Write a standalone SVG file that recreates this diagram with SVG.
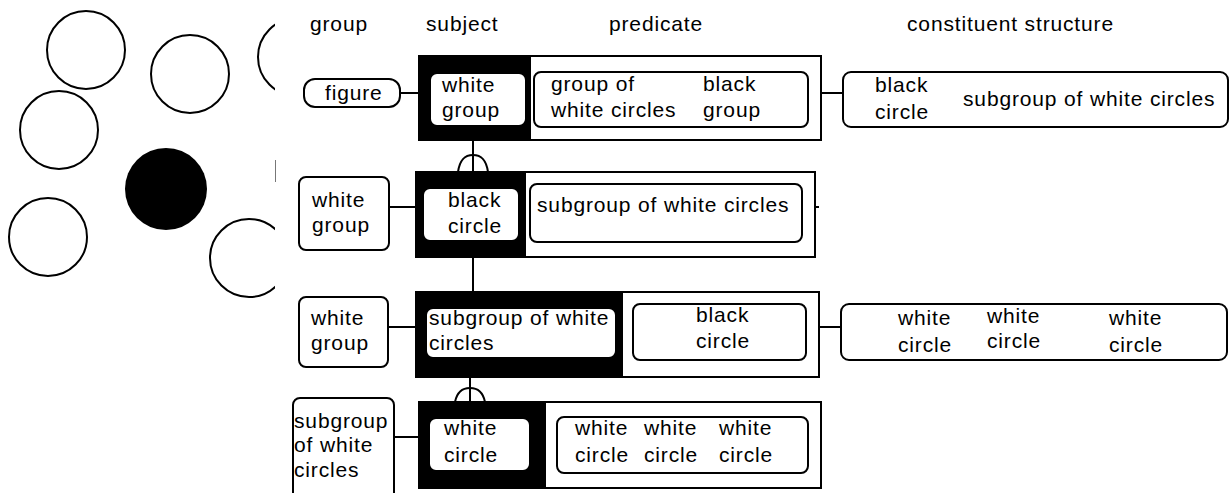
<svg xmlns="http://www.w3.org/2000/svg" width="1231" height="493" viewBox="0 0 1231 493">
  <defs>
    <clipPath id="fieldClip">
      <rect x="0" y="0" width="275" height="493"/>
    </clipPath>
  </defs>
  <style>
    text{font-family:"Liberation Sans",Arial,sans-serif;font-size:21px;letter-spacing:0.85px;fill:#000}
    .frame{fill:#fff;stroke:#000;stroke-width:2}
    .subj{fill:#000}
    .pill{fill:#fff;stroke:#000;stroke-width:2}
    .ring{fill:#fff;stroke:#000;stroke-width:2}
    .dot{fill:#000}
    .wire{fill:none;stroke:#000;stroke-width:2}
  </style>
  <rect width="1231" height="493" fill="#fff"/>

  <!-- field of circles -->
  <g id="field" clip-path="url(#fieldClip)">
    <circle class="ring" cx="86" cy="50" r="39"/>
    <circle class="ring" cx="190" cy="74" r="39"/>
    <circle class="ring" cx="297" cy="57" r="39"/>
    <circle class="ring" cx="59" cy="130" r="39"/>
    <circle class="dot" cx="166" cy="189" r="41"/>
    <circle class="ring" cx="48" cy="237" r="39"/>
    <circle class="ring" cx="249" cy="258" r="39"/>
  </g>
  <line x1="275.5" y1="160" x2="275.5" y2="182" stroke="#777" stroke-width="1"/>

  <!-- column headings -->
  <g id="headings">
    <text x="310" y="31">group</text>
    <text x="426" y="31">subject</text>
    <text x="609" y="31">predicate</text>
    <text x="907" y="31">constituent structure</text>
  </g>

  <!-- connectors -->
  <g id="connectors" class="wire">
    <path d="M400,93 H419"/>
    <path d="M821,93 H843"/>
    <path d="M473,140 V172"/>
    <path d="M458,172 C460,158 466,155 473,155 C480,155 486,158 488,172"/>
    <path d="M389,207 H416"/>
    <path d="M815,207 H819"/>
    <path d="M473,257 V292"/>
    <path d="M388,327 H416"/>
    <path d="M819,327 H841"/>
    <path d="M470,377 V402"/>
    <path d="M455,402 C457,392 463,388 470,388 C477,388 483,392 485,402"/>
    <path d="M394,437 H419"/>
  </g>

  <!-- row 1 -->
  <g id="row1-group">
    <rect class="pill" x="304" y="79" width="96" height="28" rx="11"/>
    <text x="325" y="100">figure</text>
  </g>
  <g id="row1-sentence">
    <rect class="frame" x="419" y="56" width="402" height="84"/>
    <rect class="subj" x="419" y="56" width="112" height="84"/>
    <rect class="pill" x="430" y="73" width="96" height="53" rx="7"/>
    <text x="442" y="92">white</text>
    <text x="442" y="117">group</text>
    <rect class="pill" x="534" y="72" width="274" height="55" rx="7"/>
    <text x="551" y="91">group of</text>
    <text x="551" y="117">white circles</text>
    <text x="703" y="91">black</text>
    <text x="703" y="117">group</text>
  </g>
  <g id="row1-structure">
    <rect class="pill" x="843" y="72" width="385" height="55" rx="8"/>
    <text x="875" y="92">black</text>
    <text x="875" y="119">circle</text>
    <text x="963" y="106">subgroup of white circles</text>
  </g>

  <!-- row 2 -->
  <g id="row2-group">
    <rect class="pill" x="299" y="177" width="90" height="73" rx="7"/>
    <text x="312" y="207">white</text>
    <text x="312" y="232">group</text>
  </g>
  <g id="row2-sentence">
    <rect class="frame" x="416" y="172" width="399" height="85"/>
    <rect class="subj" x="416" y="172" width="110" height="85"/>
    <rect class="pill" x="423" y="188" width="96" height="53" rx="7"/>
    <text x="448" y="207">black</text>
    <text x="448" y="233">circle</text>
    <rect class="pill" x="530" y="184" width="272" height="58" rx="7"/>
    <text x="537" y="212">subgroup of white circles</text>
  </g>

  <!-- row 3 -->
  <g id="row3-group">
    <rect class="pill" x="299" y="297" width="89" height="70" rx="7"/>
    <text x="311" y="325">white</text>
    <text x="311" y="350">group</text>
  </g>
  <g id="row3-sentence">
    <rect class="frame" x="416" y="292" width="403" height="85"/>
    <rect class="subj" x="416" y="292" width="207" height="85"/>
    <rect class="pill" x="426" y="308" width="190" height="50" rx="7"/>
    <text x="429" y="325">subgroup of white</text>
    <text x="429" y="350">circles</text>
    <rect class="pill" x="633" y="304" width="173" height="56" rx="7"/>
    <text x="696" y="322">black</text>
    <text x="696" y="348">circle</text>
  </g>
  <g id="row3-structure">
    <rect class="pill" x="841" y="304" width="386" height="56" rx="8"/>
    <text x="898" y="325">white</text>
    <text x="898" y="352">circle</text>
    <text x="987" y="323">white</text>
    <text x="987" y="348">circle</text>
    <text x="1109" y="325">white</text>
    <text x="1109" y="352">circle</text>
  </g>

  <!-- row 4 -->
  <g id="row4-group">
    <rect class="pill" x="293" y="398" width="101" height="110" rx="7"/>
    <text x="294" y="428">subgroup</text>
    <text x="294" y="452">of white</text>
    <text x="294" y="477">circles</text>
  </g>
  <g id="row4-sentence">
    <rect class="frame" x="419" y="402" width="402" height="86"/>
    <rect class="subj" x="419" y="402" width="127" height="86"/>
    <rect class="pill" x="429" y="418" width="101" height="53" rx="7"/>
    <text x="444" y="435">white</text>
    <text x="444" y="462">circle</text>
    <rect class="pill" x="557" y="417" width="251" height="56" rx="7"/>
    <text x="575" y="435">white</text>
    <text x="575" y="462">circle</text>
    <text x="644" y="435">white</text>
    <text x="644" y="462">circle</text>
    <text x="719" y="435">white</text>
    <text x="719" y="462">circle</text>
  </g>
</svg>
